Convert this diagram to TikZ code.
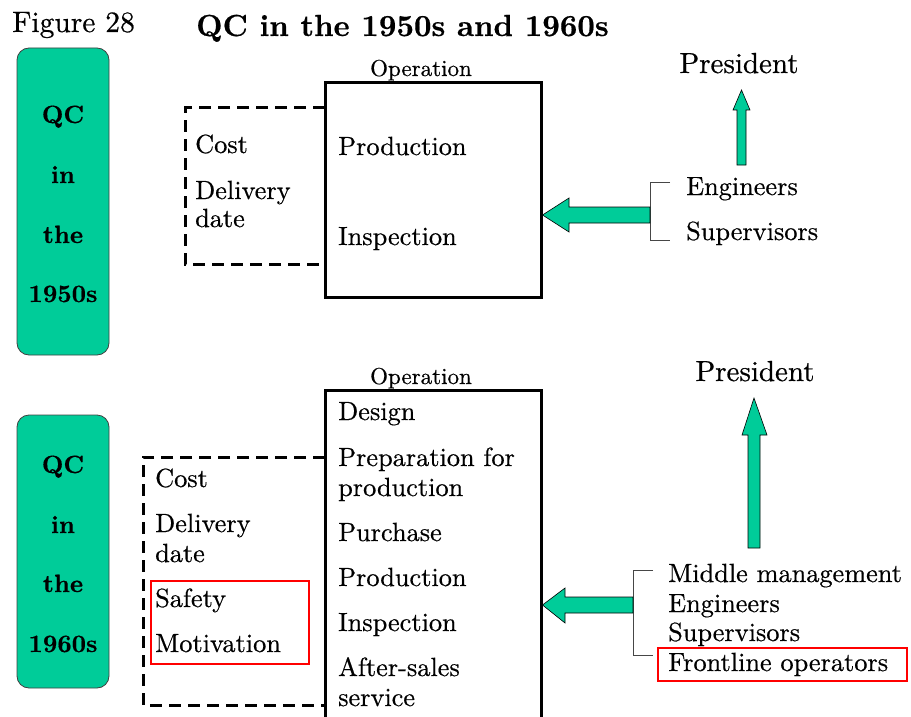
\documentclass[tikz,border=0pt]{standalone}
\usepackage{fontspec}
\setmainfont{lmroman10-regular.otf}[BoldFont=lmroman10-bold.otf, FakeBold=0.5]
\definecolor{qcgreen}{RGB}{0,204,153}
\definecolor{bracketgray}{RGB}{70,70,70}
\begin{document}
\begin{tikzpicture}[x=1pt,y=-1pt,
  txt/.style={inner sep=0pt, anchor=base west, font=\fontsize{26.3}{30}\selectfont},
  optxt/.style={inner sep=0pt, anchor=base, font=\fontsize{23}{26}\selectfont},
  prestxt/.style={inner sep=0pt, anchor=base, font=\fontsize{29}{34}\selectfont},
  eratxt/.style={inner sep=0pt, anchor=base, font=\fontsize{25}{29}\selectfont\bfseries},
  erabox/.style={draw=black!75, line width=0.8pt, fill=qcgreen, rounded corners=12pt},
  opbox/.style={draw=black, line width=3pt},
  factorbox/.style={draw=black, line width=3pt, dash pattern=on 12pt off 7pt},
  redbox/.style={draw=red, line width=2pt},
  blockarrow/.style={draw=black, line width=0.6pt, fill=qcgreen},
  bracket/.style={draw=bracketgray, line width=1pt}]
\useasboundingbox (0,0) rectangle (911,717);

% headings
\node[inner sep=0pt, anchor=base west, font=\fontsize{29.5}{34}\selectfont] (fig) at (12,32) {Figure 28};
\node[inner sep=0pt, anchor=base west, font=\fontsize{30.5}{35}\selectfont\bfseries] (title) at (196,36) {QC in the 1950s and 1960s};

% ---------------- 1950s ----------------
\draw[erabox] (17,48) rectangle (109,355);
\node[eratxt] (a1) at (63,123) {QC};
\node[eratxt] (a2) at (63,183) {in};
\node[eratxt] (a3) at (63,243) {the};
\node[eratxt] (a4) at (63,302) {1950s};

\node[optxt] (opA) at (421,76) {Operation};
\draw[factorbox] (325,108) -- (185,108) -- (185,264) -- (325,264);
\draw[opbox] (325,83) rectangle (541,297);

\node[txt] (costA) at (195,153) {Cost};
\node[txt] (delA) at (195,199) {Delivery};
\node[txt] (dateA) at (195,227) {date};
\node[txt] (prodA) at (338,155) {Production};
\node[txt] (inspA) at (338,245) {Inspection};

\node[prestxt] (presA) at (739,73) {President};
\node[txt] (engA) at (686,195) {Engineers};
\node[txt] (supA) at (686,240) {Supervisors};

\draw[bracket] (670,182) -- (650,182) -- (650,240) -- (670,240);
\coordinate (tipA) at (542.5,215);
\draw[blockarrow] (tipA) -- (569,198) -- (569,207) -- (650,207) -- (650,223)
  -- (569,223) -- (569,232) -- cycle;
\coordinate (upA) at (741.5,90);
\draw[blockarrow] (upA) -- (750,110) -- (746,110) -- (746,165) -- (737,165)
  -- (737,110) -- (733,110) -- cycle;

% ---------------- 1960s ----------------
\draw[erabox] (17,415) rectangle (109,688);
\node[eratxt] (b1) at (63,473) {QC};
\node[eratxt] (b2) at (63,533) {in};
\node[eratxt] (b3) at (63,592) {the};
\node[eratxt] (b4) at (63,652) {1960s};

\node[optxt] (opB) at (421,384) {Operation};
\draw[factorbox] (325,457) -- (143,457) -- (143,705) -- (325,705);
\draw[opbox] (325,725) -- (325,390) -- (541,390) -- (541,725);

\node[txt] (costB) at (155,487) {Cost};
\node[txt] (delB) at (155,532) {Delivery};
\node[txt] (dateB) at (155,562) {date};
\node[txt] (safB) at (155,607) {Safety};
\node[txt] (motB) at (155,652) {Motivation};
\draw[redbox] (151,581) rectangle (309,664);

\node[txt] (desB) at (338,420) {Design};
\node[txt] (prepB) at (338,466) {Preparation for};
\node[txt] (prep2B) at (338,496) {production};
\node[txt] (purB) at (338,541) {Purchase};
\node[txt] (prodB) at (338,586) {Production};
\node[txt] (inspB) at (338,631) {Inspection};
\node[txt] (afterB) at (338,676) {After-sales};
\node[txt] (servB) at (338,706) {service};

\node[prestxt] (presB) at (755,381) {President};
\node[txt] (midB) at (668,582) {Middle management};
\node[txt] (engB) at (668,612) {Engineers};
\node[txt] (supB) at (668,641) {Supervisors};
\node[txt] (frontB) at (668,671) {Frontline operators};
\draw[redbox] (658,648) rectangle (907,681);

\draw[bracket] (653,570) -- (633,570) -- (633,655) -- (653,655);
\coordinate (tipB) at (542.5,605);
\draw[blockarrow] (tipB) -- (565,588) -- (565,597) -- (633,597) -- (633,613)
  -- (565,613) -- (565,623) -- cycle;
\coordinate (upB) at (754,398);
\draw[blockarrow] (upB) -- (767,435) -- (760,435) -- (760,548) -- (748,548)
  -- (748,435) -- (742,435) -- cycle;
\end{tikzpicture}
\end{document}
